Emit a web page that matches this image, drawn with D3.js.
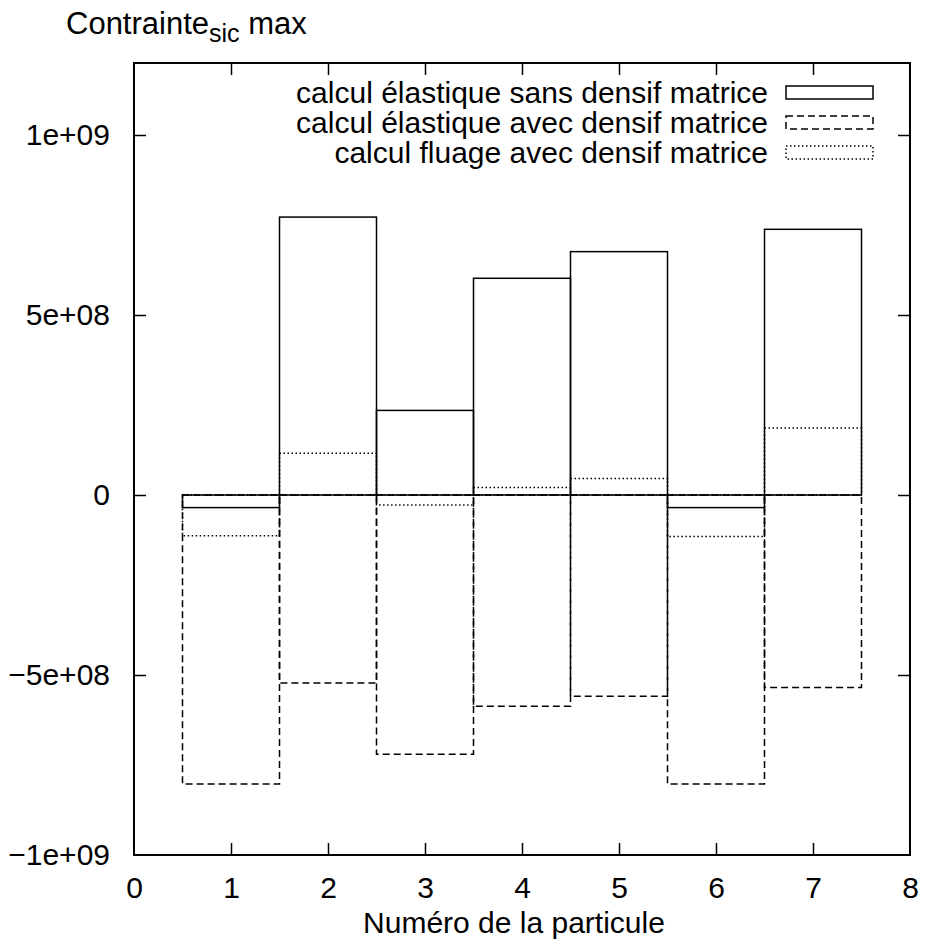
<!DOCTYPE html>
<html><head><meta charset="utf-8">
<script src="https://cdn.jsdelivr.net/npm/d3@7"></script>
<style>
body{margin:0;background:#fff;}
text{font-family:"Liberation Sans",Arial,sans-serif;fill:#000;}
</style></head>
<body><svg id="chart" width="926" height="952"></svg>
<script>
const particles = [1, 2, 3, 4, 5, 6, 7];
const elastiqueSans = [-3.5e7, 7.72e8, 2.35e8, 6.02e8, 6.76e8, -3.5e7, 7.38e8];
const elastiqueAvec = [-8.03e8, -5.22e8, -7.2e8, -5.87e8, -5.59e8, -8.03e8, -5.35e8];
const fluageAvec = [-1.13e8, 1.16e8, -2.8e7, 2.1e7, 4.6e7, -1.15e8, 1.86e8];
const seriesNames = ["calcul élastique sans densif matrice", "calcul élastique avec densif matrice", "calcul fluage avec densif matrice"];
const xTicks = [0, 1, 2, 3, 4, 5, 6, 7, 8];
const yTicks = [-1e9, -5e8, 0, 5e8, 1e9];
const yTickLabels = ["\u22121e+09", "\u22125e+08", "0", "5e+08", "1e+09"];

const series = [
  {name: seriesNames[0], values: elastiqueSans, dash: null},
  {name: seriesNames[1], values: elastiqueAvec, dash: "7,4"},
  {name: seriesNames[2], values: fluageAvec, dash: "1.5,2.5"}
];

const svg = d3.select("#chart");
const L = 134, R = 910, T = 63, B = 855;
const x = d3.scaleLinear().domain([0, 8]).range([L, R]);
const y = d3.scaleLinear().domain([-1e9, 1.2e9]).range([B, T]);
const FS = 30;

// data boxes
series.forEach(s => {
  const g = svg.append("g");
  s.values.forEach((v, i) => {
    const p = particles[i];
    const x0 = x(p - 0.5), x1 = x(p + 0.5), y0 = y(0), y1 = y(v);
    g.append("rect")
      .attr("x", x0).attr("width", x1 - x0)
      .attr("y", Math.min(y0, y1)).attr("height", Math.abs(y1 - y0))
      .attr("fill", "none").attr("stroke", "#000").attr("stroke-width", 1.5)
      .attr("stroke-dasharray", s.dash);
  });
});

// frame
svg.append("rect").attr("x", L).attr("y", T).attr("width", R - L).attr("height", B - T)
  .attr("fill", "none").attr("stroke", "#000").attr("stroke-width", 2);

// axes with mirrored inward ticks
const tk = 12;
const axB = svg.append("g").attr("transform", `translate(0,${B})`)
  .call(d3.axisBottom(x).tickValues(xTicks).tickSize(-tk).tickPadding(tk + 10).tickFormat(d3.format("d")));
const axT = svg.append("g").attr("transform", `translate(0,${T})`)
  .call(d3.axisTop(x).tickValues(xTicks).tickSize(-tk).tickFormat(""));
const axL = svg.append("g").attr("transform", `translate(${L},0)`)
  .call(d3.axisLeft(y).tickValues(yTicks).tickSize(-tk).tickPadding(tk + 12).tickFormat((d, i) => yTickLabels[i]));
const axR = svg.append("g").attr("transform", `translate(${R},0)`)
  .call(d3.axisRight(y).tickValues(yTicks).tickSize(-tk).tickFormat(""));
[axB, axT, axL, axR].forEach(a => {
  a.select(".domain").remove();
  a.selectAll("line").attr("stroke", "#000").attr("stroke-width", 1.5);
  a.selectAll("text").attr("font-size", FS).attr("font-family", "Liberation Sans, Arial, sans-serif").attr("fill", "#000");
});
axB.selectAll(".tick").filter(d => d === 0 || d === 8).select("line").remove();
axT.selectAll(".tick").filter(d => d === 0 || d === 8).select("line").remove();
axL.selectAll(".tick").filter(d => d === -1e9).select("line").remove();
axR.selectAll(".tick").filter(d => d === -1e9).select("line").remove();

// axis titles
svg.append("text").attr("x", 514).attr("y", 933).attr("text-anchor", "middle")
  .attr("font-size", FS).text("Numéro de la particule");
const yt = svg.append("text").attr("x", 66).attr("y", 34).attr("font-size", 31);
yt.append("tspan").text("Contrainte");
yt.append("tspan").attr("font-size", 25).attr("dy", 8).text("sic");
yt.append("tspan").attr("dy", -8).text(" max");

// legend
const legY = [92.5, 122.5, 152.5];
series.forEach((s, i) => {
  svg.append("text").attr("x", 768).attr("y", legY[i]).attr("dy", "0.35em")
    .attr("text-anchor", "end").attr("font-size", FS).text(s.name);
  svg.append("rect").attr("x", 786).attr("y", legY[i] - 6.5).attr("width", 87).attr("height", 13)
    .attr("fill", "none").attr("stroke", "#000").attr("stroke-width", 1.5)
    .attr("stroke-dasharray", s.dash);
});
</script></body></html>
